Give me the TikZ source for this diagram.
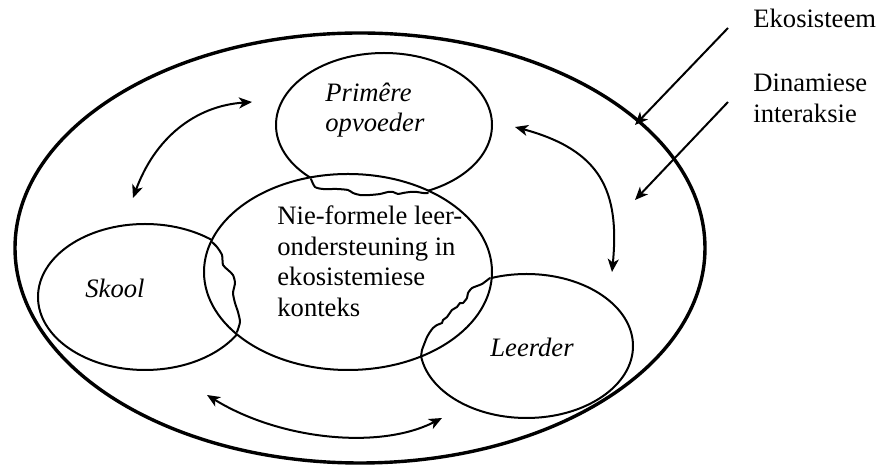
\documentclass[tikz,border=0pt]{standalone}
\usepackage{fontspec}
\setmainfont{Liberation Serif}
\usetikzlibrary{arrows.meta}
\begin{document}
\begin{tikzpicture}[x=0.5pt,y=-0.5pt,
  ring/.style={line width=1pt},
  outerring/.style={line width=1.7pt},
  tear/.style={line width=1pt, line join=round, line cap=round},
  tipstyle/.tip={Stealth[length=6.5pt,width=5.5pt,inset=1.8pt]},
  onearrow/.style={line width=1pt,-tipstyle},
  twoarrow/.style={line width=1pt,tipstyle-tipstyle},
  lbl/.style={font=\fontsize{13.3}{15.4}\selectfont, inner sep=0pt, anchor=base west},
  ilbl/.style={lbl, font=\fontsize{13.3}{15.4}\selectfont\itshape}]
\useasboundingbox (0,0) rectangle (885,469);

% outer ecosystem
\draw[outerring] (360,248) ellipse [x radius=345, y radius=215];

% partial ellipses clipped outside the central ellipse
\begin{scope}[even odd rule]
  \clip (-10,-10) rectangle (895,479) (348,272) ellipse [x radius=144, y radius=98];
  \draw[ring] (384,125) ellipse [x radius=108, y radius=72];
  \draw[ring] (145,297) ellipse [x radius=107, y radius=73];
  \draw[ring] (526.5,346) ellipse [x radius=106.5, y radius=72];
\end{scope}

% central ellipse
\draw[ring] (348,272) ellipse [x radius=144, y radius=98];

% torn edges
\draw[tear] plot[smooth, tension=0.4] coordinates {(311,179) (315,187) (323,189) (337,189) (348,190) (353,193) (360,195) (370,195) (380,194) (388,192) (393,192) (398,194) (403,193) (410,192) (417,192) (423,193) (428,193)};
\draw[tear] plot[smooth, tension=0.4] coordinates {(212,242) (217,247) (222,255) (223,265) (228,270) (233,275) (235,283) (233,293) (235,303) (238,312) (240,322) (237,332)};
\draw[tear] plot[smooth, tension=0.3] coordinates {(490,278) (482,284) (472,288) (468,293) (467,298) (463,303) (460,303) (457,307) (452,310) (447,317) (443,320) (442,323) (437,325) (433,328) (430,332) (427,337) (425,342) (422,350) (421,357)};

% texts
\node[ilbl] (prim1) at (325,102) {Primêre};
\node[ilbl] (prim2) at (325,132) {opvoeder};
\node[ilbl] (skool) at (85,298) {Skool};
\node[ilbl] (leerder) at (490,357) {Leerder};
\node[lbl] (c1) at (277,225) {Nie-formele leer-};
\node[lbl] (c2) at (277,255.5) {ondersteuning in};
\node[lbl] (c3) at (277,286) {ekosistemiese};
\node[lbl] (c4) at (277,317) {konteks};
\node[lbl] (eko) at (753,28) {Ekosisteem};
\node[lbl] (din1) at (753,92) {Dinamiese};
\node[lbl] (din2) at (753,123) {interaksie};

% arrow end points
\coordinate (ekoS) at (728,28);
\coordinate (ekoT) at (635,125);
\coordinate (dinS) at (728,102);
\coordinate (dinT) at (635,200);
\coordinate (tlA) at (133,198);
\coordinate (tlB) at (252,102);
\coordinate (trA) at (515,127);
\coordinate (trB) at (612,272);
\coordinate (bA) at (207,395);
\coordinate (bB) at (442,418);

\draw[onearrow] (ekoS) -- (ekoT);
\draw[onearrow] (dinS) -- (dinT);
\draw[twoarrow] (tlA) .. controls (155,138) and (195,106) .. (tlB);
\draw[twoarrow] (trA) .. controls (600,150) and (620,190) .. (trB);
\draw[twoarrow] (bA) .. controls (280,440) and (380,450) .. (bB);
\end{tikzpicture}
\end{document}
